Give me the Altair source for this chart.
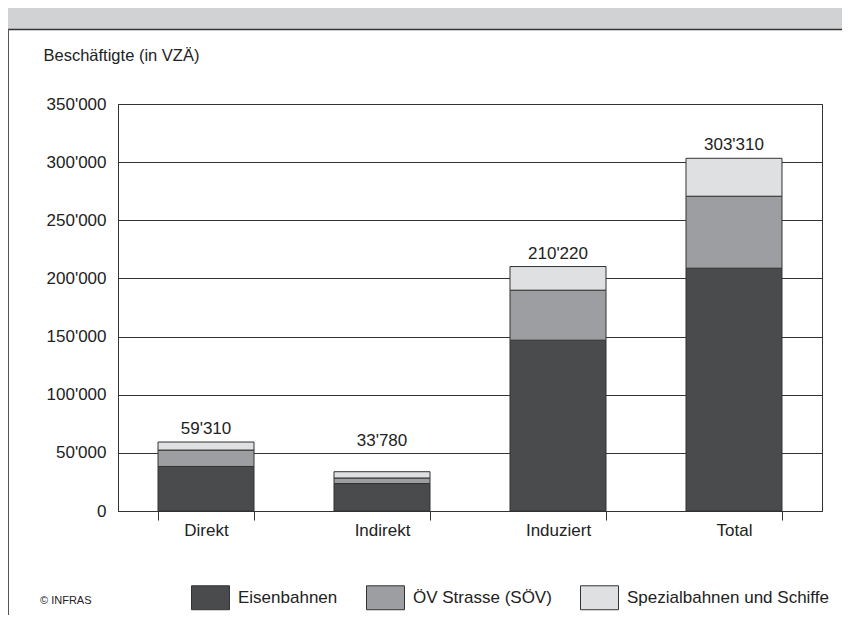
import altair as alt
import pandas as pd

categories = ["Direkt", "Indirekt", "Induziert", "Total"]
series = ["Eisenbahnen", "ÖV Strasse (SÖV)", "Spezialbahnen und Schiffe"]
eisenbahnen = [38300, 23600, 146900, 208800]
oev_strasse = [14100, 4800, 43000, 61900]
spezial = [6910, 5380, 20320, 32610]
totals = [59310, 33780, 210220, 303310]
colors = ["#4a4b4d", "#9d9ea1", "#dfe0e2"]

FONT = "Liberation Sans"
FS = 17

rows = []
for i, c in enumerate(categories):
    for j, (s, vals) in enumerate(zip(series, [eisenbahnen, oev_strasse, spezial])):
        rows.append({"Kategorie": c, "Serie": s, "Wert": vals[i], "ord": j})
df = pd.DataFrame(rows)
tot_df = pd.DataFrame({
    "Kategorie": categories,
    "Total": totals,
    "Label": [f"{v:,}".replace(",", "'") for v in totals],
})

xscale = alt.Scale(domain=categories, paddingInner=0.4545, paddingOuter=0.2273)
yscale = alt.Scale(domain=[0, 350000], nice=False)

bars = alt.Chart(df).mark_bar(stroke="#333333", strokeWidth=1).encode(
    x=alt.X("Kategorie:N", scale=xscale, sort=categories,
            axis=alt.Axis(title=None, labelAngle=0, tickBand="extent", tickSize=9,
                          tickColor="#333333", domainColor="#333333",
                          labelPadding=2, labelFontSize=FS, labelColor="#222222",
                          labelFont=FONT)),
    y=alt.Y("sum(Wert):Q", scale=yscale, stack="zero",
            axis=alt.Axis(title="Beschäftigte (in VZÄ)",
                          values=[0, 50000, 100000, 150000, 200000, 250000, 300000, 350000],
                          labelExpr="replace(format(datum.value, ','), ',', \"'\")",
                          ticks=False, labelPadding=12, labelFontSize=FS,
                          labelColor="#222222", labelFont=FONT,
                          grid=True, gridColor="#333333", gridWidth=1, gridOpacity=1,
                          domainColor="#333333",
                          titleAngle=0, titleAlign="left", titleBaseline="alphabetic",
                          titleX=-75, titleY=-44, titleFontSize=16.5, titleFontWeight="normal",
                          titleFont=FONT, titleColor="#222222")),
    color=alt.Color("Serie:N", scale=alt.Scale(domain=series, range=colors),
                    legend=alt.Legend(title=None, orient="none", direction="horizontal",
                                      legendX=73, legendY=474,
                                      symbolType="M-1,-0.63H1V0.63H-1Z", symbolSize=1444,
                                      symbolStrokeColor="#333333", symbolStrokeWidth=1,
                                      symbolOpacity=1,
                                      labelFontSize=FS, labelFont=FONT, labelColor="#222222",
                                      labelOffset=8, columnPadding=26, labelLimit=400)),
    order=alt.Order("ord:Q"),
)

label_base = alt.Chart(tot_df).encode(
    x=alt.X("Kategorie:N", scale=xscale, sort=categories),
    y=alt.Y("Total:Q", scale=yscale),
    text="Label:N",
)
labels = label_base.transform_filter("datum.Kategorie != 'Indirekt'").mark_text(
    dy=-8, baseline="alphabetic", fontSize=FS, font=FONT, color="#222222"
)
labels_ind = label_base.transform_filter("datum.Kategorie == 'Indirekt'").mark_text(
    dy=-26, baseline="alphabetic", fontSize=FS, font=FONT, color="#222222"
)

one = pd.DataFrame({"a": [0]})
header = alt.Chart(one).mark_rect(color="#d1d2d4").encode(
    x=alt.value(-112), x2=alt.value(740), y=alt.value(-99), y2=alt.value(-75)
)
header_line = alt.Chart(one).mark_rule(color="#333333", strokeWidth=1.5).encode(
    x=alt.value(-112), x2=alt.value(740), y=alt.value(-74.5)
)
left_line = alt.Chart(one).mark_rule(color="#555555", strokeWidth=1).encode(
    x=alt.value(-109.5), y=alt.value(-75), y2=alt.value(516)
)
copyright_txt = alt.Chart(one).mark_text(
    text="© INFRAS", fontSize=11, font=FONT, color="#222222", align="left", baseline="middle"
).encode(x=alt.value(-78), y=alt.value(497))

chart = alt.layer(header, header_line, left_line, bars, labels, labels_ind, copyright_txt).properties(
    width=704, height=407,
    autosize=alt.AutoSizeParams(type="none"),
    padding={"left": 110, "top": 96, "right": 20, "bottom": 104},
).configure_view(stroke="#333333", strokeWidth=1).configure_axis(
    domainWidth=1
)

chart.save("out.html", embed_options={"renderer": "svg", "actions": False})
